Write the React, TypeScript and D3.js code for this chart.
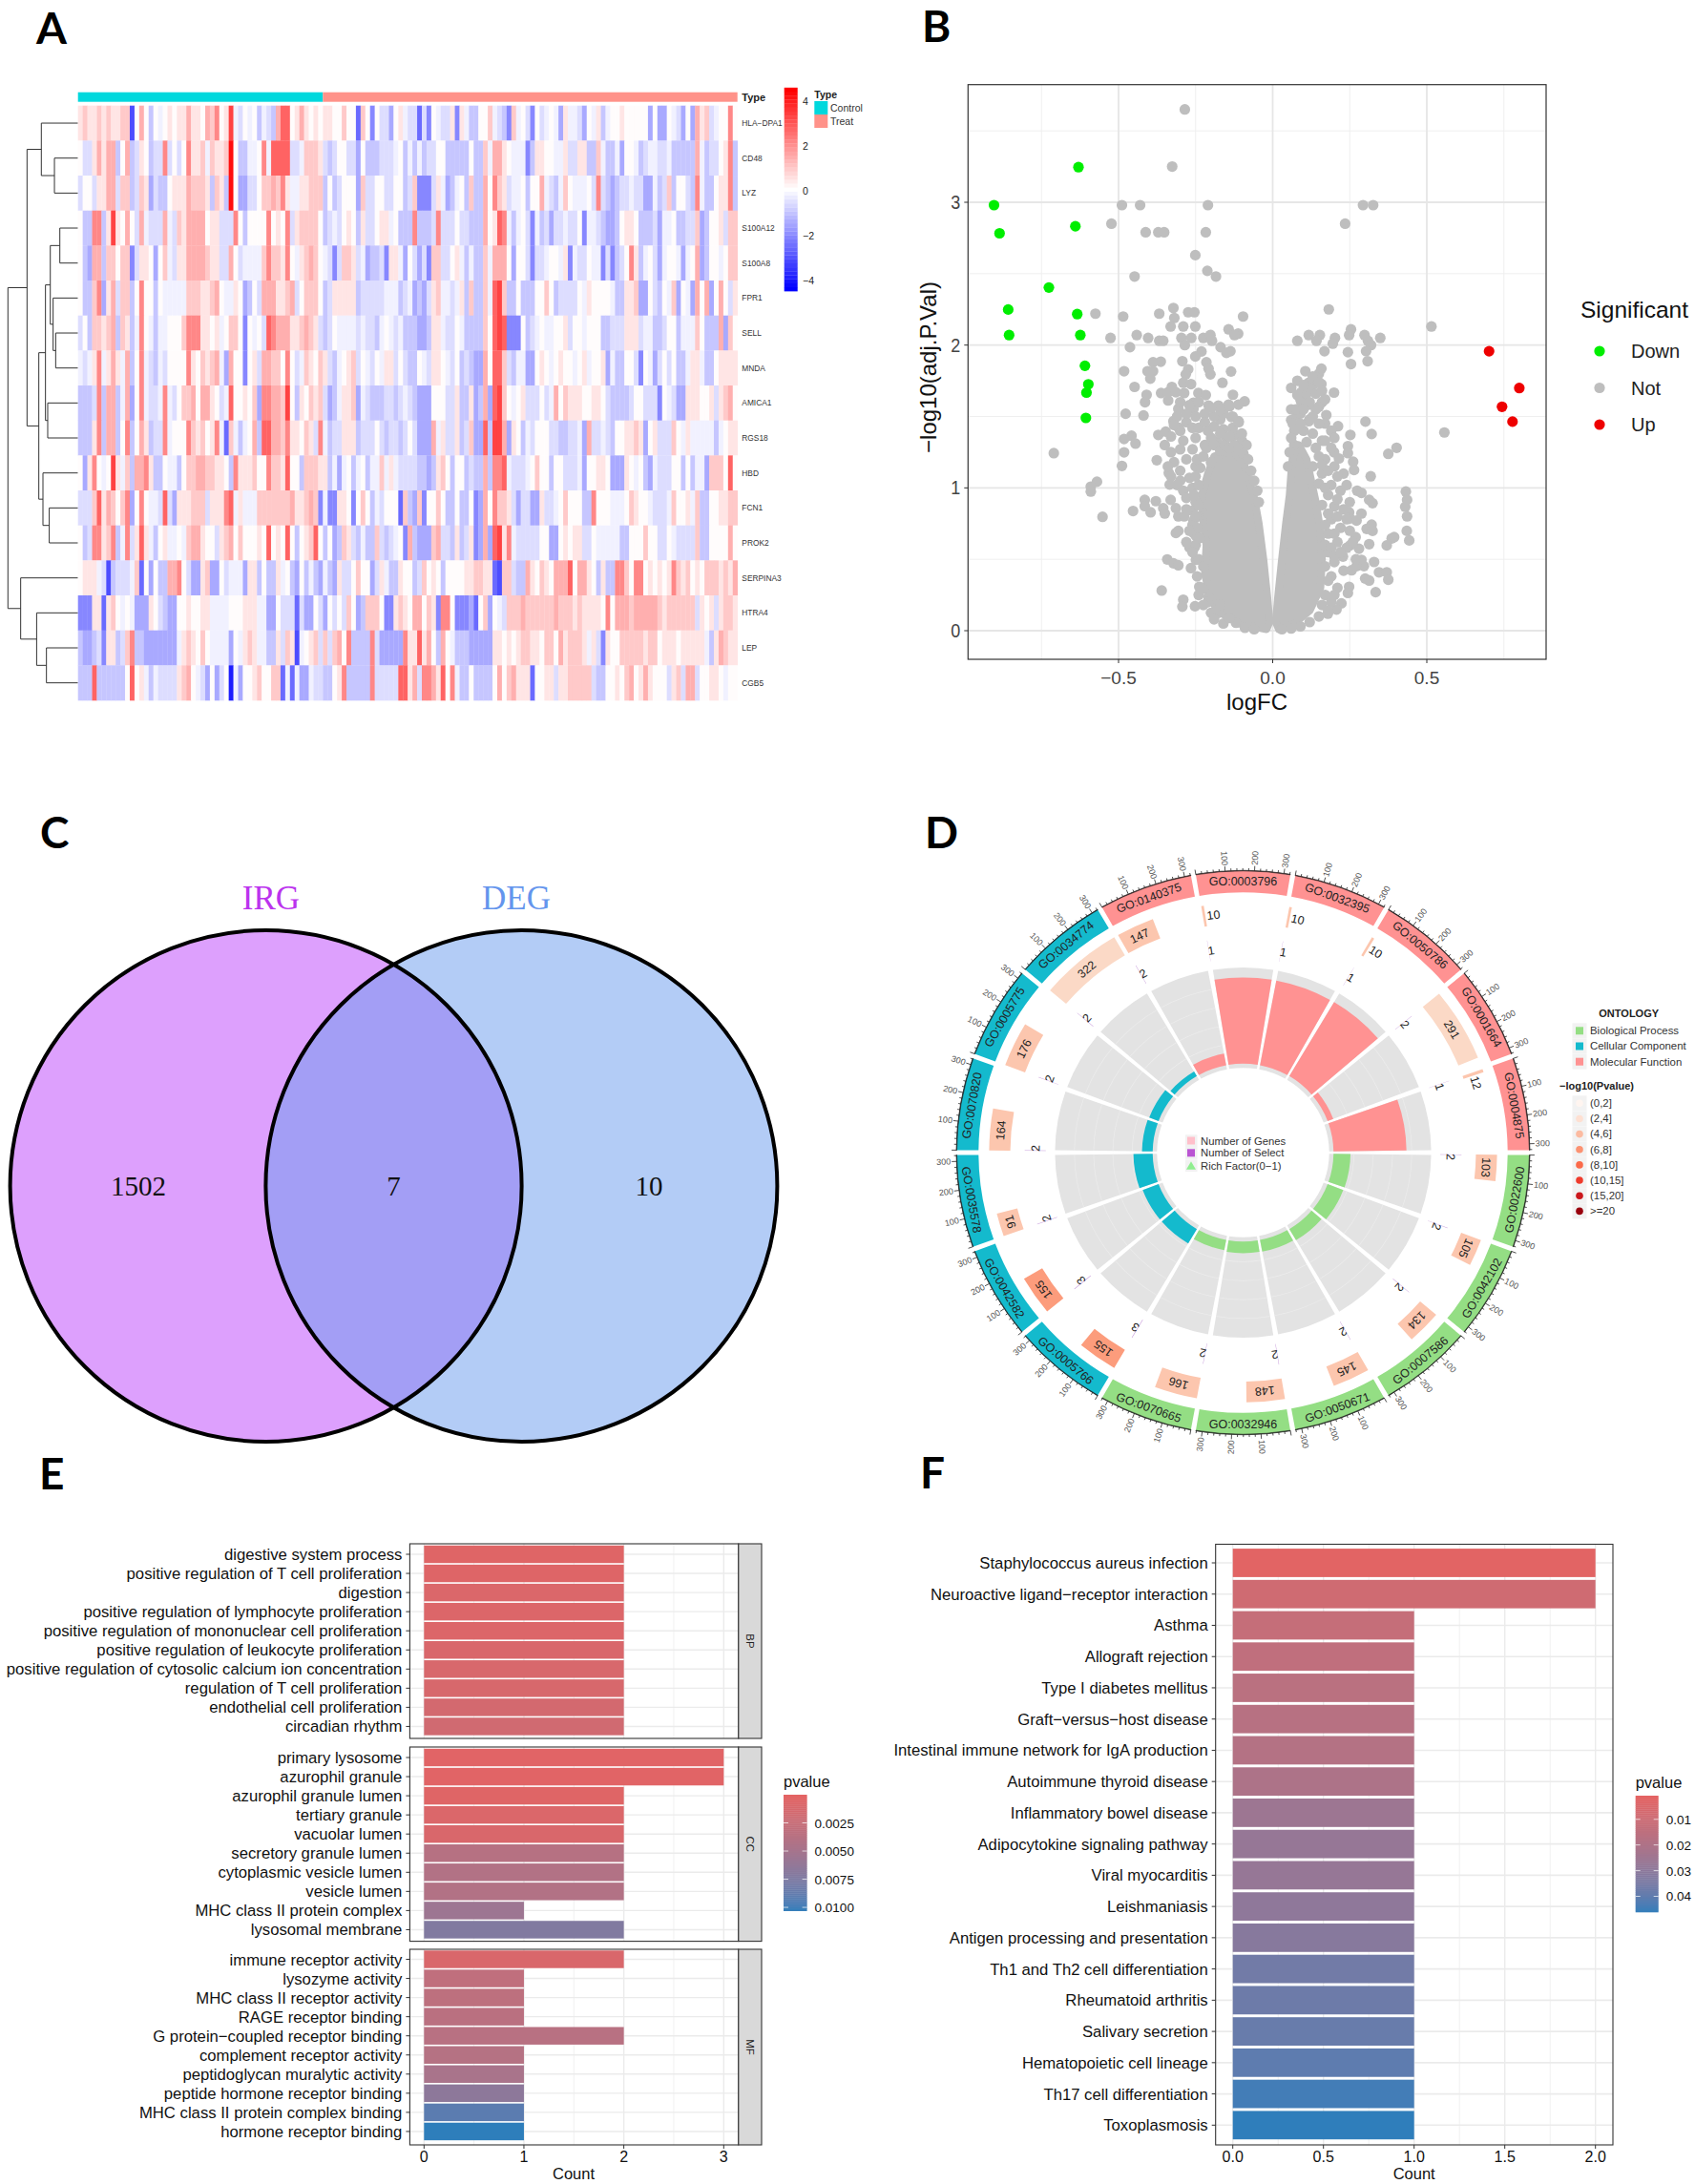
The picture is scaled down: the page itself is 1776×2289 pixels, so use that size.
import * as d3 from "d3";

const SANS = "'Liberation Sans', Arial, sans-serif";
const SERIF = "'Liberation Serif', 'Times New Roman', serif";

// ---------- panel A: heatmap ----------
const geneNames = ["HLA−DPA1", "CD48", "LYZ", "S100A12", "S100A8", "FPR1", "SELL", "MNDA", "AMICA1", "RGS18", "HBD", "FCN1", "PROK2", "SERPINA3", "HTRA4", "LEP", "CGB5"];
const controlCount = 52;
const treatCount = 88;
// one letter per column, a = -4 ... i = 0 ... p = +4
const levelValues: Record<string, number> = { a: -4, b: -3.1, c: -2.6, d: -2.1, e: -1.5, f: -1, g: -0.6, h: -0.25, i: 0.05, j: 0.45, k: 0.95, l: 1.4, m: 2.1, n: 2.7, o: 3.3, p: 4.3 };
const heatRows = [
  "jkjjkjkjjk kbilifihij ijjljjilkm ijohgihifh gflnnijlji jijjiikiic kidiggeijh ggcgdihggj djhffiikhg fdkhigdigh ihejhhgeih jfhiijiiii ieieeihgei eljkghiimi",
  "iggjljllfi lfgjifggmg igimjjkhkj jkpiffhhim hnnnngghkk kjgfgiigge ifffggghif hfhfggiiff fffiffkhll jihhhdfjji ihhjggjjff khffheiihf ghhgghffff flhfggijmf",
  "giigjjllgk kfgkjegffi jjjlkkkjfk jfpieeggik klkmjhhjjk kkfifgiiie kggiiggiif gkdddgjhef hifkfflimk jghhifiilh gfhkihhhig mgfefgghgg eehfgkfiig fmhffijjmf",
  "iffmmfjoji liglhggglh gkjllllijj gggmifiiii mijimgjkkk kifghgijif jggijjhiff fmfffgmggg iggffflijn mhfhigdhfg egghggidhh gfeefijjif ffgehhiffg gkefiijgkk",
  "ifellfkkik kdgjjieikh gjjllllkjj gglighhhhk mkkjmihjkl kihgdgkkjg heffgdjjhe igegdkkggi jhfhffkhll lieiigdggh iihjdhggih hdgdfgimjf higehiiheh ilefiihikk",
  "iffkmejlgk kfimiifihh hhhkkkjjkl ihhjiefigl lljjklgikk kifgjjjjjf ggggghhhfg hefegjkhhg hjfkffkhno kffifffiik ifggggihji iiihffjjke eigfihkeih elileiligj",
  "gifkkjklfk jfhmihfhhi iikmmmjjij hikkidihig nmllljjklk jgfgihhhhg hggfhihghf ffeefjjhgg ihffffkino ndddifghih hiijgiihii iffgggjjjg hhffgiifhh hkifffleki",
  "hghjmhjljh lfimhgfhgi iiimjikjkl heliidijgl lkkimighkj ikjgfhijkg ihgihjjgig ffihgjjihg ifgfeelinn kgfhheeiji hijiihijhi ijehffiigd ihegigiffh jjhffijjjj",
  "fffgmfllfh leimhgghmh gikklillji ghniijikem mllkoifjik jkgefhjjke hgfffggfgh gfeeeiiigg jffjefleno kihijgggig hlikjjjiij jigffffgii gggdihgeej jjiijgjkli",
  "fffjmfllfi mfiljfggmh iiimkjkijm hckhfhilfn nllkmjjikj gmhfggjjjf gggigfggfg igeeelhjgg jfgkeenfoo lejifhgiii ggffgghelg ghgfiijjkj eijgggkihj hhhhhfhijj",
  "iejmihiojh kfllmjffih hfikkllkkj jifmjjjkii mkkjniifkk kjjfhehifh ifhhkhjhgg ggffefjkif iifgfflfmm nhggghikii fiigggheii jjieeejihi fehgggiifi fhhekkkini",
  "gggknjlkik meimihhgng ejjjkkkgjj jmnhjhhhkk kkkkkljjkl kdhddjjidi kifhgiiick fekdiikiff iffidelimk kjgeggeejg ghikiiiffm iiihhhikji ihggghkiij hkffiijjkk",
  "ifgmmjkmfh mgjnjhfijh hihklljiig jklikiiiji nijinifijk nifiefkjgf hffkgfghid lfeeeklggf jfgjdeleno jmhgggggii eeijijjggi hhhhhffiii kiiggihggg gkffiiiili",
  "ijjjhgbfgg ghkcieiffl lmigeejkee ighhhejjfi ffjhifeifh fehfejggik iiegjhffji ifgkijifii iijjkkjjcb kkgffljikj illlnillji fjffmmkimm ijijijmkjk ijikkkjkjl",
  "dddjjcjkih iheeejigfe eiijiijjhh hhiiijjjhh eeigggcgee igeigigkie fkkkiddjkj illikjdmmi dddecikeih gkkklkkkkk klkkkjkjjj jimilllkll lllkjkkkkk kgjijgjkkj",
  "feefgdjjfg kmffeeeeee ehjkjikihh hheihjkjhh ffjgkjbhij kgkgklimff ffmgeeeeem jjnjliflih fffeeeeejj ijijkkjjik kiljkkkjhj gdjiikkkkk jkkijjjijj jjjhfjlkjj",
  "fffnffffff inijhfhggg gjklihgeie giaheiijki ikkchcheeh ggffijmfff ffmgggggnn jlgmmljnim hffiffffil ikljjjciij jgjjkkkkkg ffiijiklij ljiiigjkgl lgiijjihii",
].map((r) => r.replace(/\s/g, "").split("").map((c) => levelValues[c]));

type DendroNode = { h: number; name?: string; children?: DendroNode[] };
const leaf = (i: number): DendroNode => ({ h: 0, name: geneNames[i] });
const dendroTree: DendroNode = {
  h: 1,
  children: [
    {
      h: 0.727,
      children: [
        { h: 0.523, children: [leaf(0), { h: 0.336, children: [leaf(1), leaf(2)] }] },
        {
          h: 0.559,
          children: [
            {
              h: 0.464,
              children: [
                {
                  h: 0.395,
                  children: [
                    { h: 0.259, children: [leaf(3), leaf(4)] },
                    { h: 0.355, children: [leaf(5), { h: 0.318, children: [leaf(6), leaf(7)] }] },
                  ],
                },
                { h: 0.432, children: [leaf(8), leaf(9)] },
              ],
            },
            { h: 0.5, children: [leaf(10), { h: 0.41, children: [leaf(11), leaf(12)] }] },
          ],
        },
      ],
    },
    { h: 0.818, children: [leaf(13), { h: 0.59, children: [leaf(14), { h: 0.45, children: [leaf(15), leaf(16)] }] }] },
  ],
};

function Heatmap() {
  const columns = d3.range(controlCount + treatCount);
  const x = d3.scaleBand<number>().domain(columns).range([81.7, 772.7]);
  const y = d3.scaleBand<string>().domain(geneNames).range([110.7, 734]);
  const color = d3.scaleLinear<string>().domain([-4.45, 0, 4.45]).range(["#0000ff", "#ffffff", "#ff0000"]);
  const h = d3.scaleLinear().domain([0, 1]).range([81.7, 8.3]);
  const legendY = d3.scaleLinear().domain([-4, 4]).range([294, 106]);
  const legendSteps = d3.range(-4.45, 4.45, 0.178);

  // dendrogram: a node's y is the middle of its two children
  const root = d3.hierarchy(dendroTree);
  const nodeY = (n: d3.HierarchyNode<DendroNode>): number =>
    n.children ? (nodeY(n.children[0]) + nodeY(n.children[1])) / 2 : y(n.data.name!)! + y.bandwidth() / 2;
  const dendroPaths = root.descendants().filter((n) => n.children).map((n) => {
    const [a, b] = n.children!;
    return `M${h(a.data.h)},${nodeY(a)}H${h(n.data.h)}V${nodeY(b)}H${h(b.data.h)}`;
  });

  return (
    <g fontFamily={SANS}>
      <defs>
        <filter id="soft" x="0" y="0" width="1" height="1">
          <feGaussianBlur stdDeviation="0.7 0.4" />
        </filter>
      </defs>
      {dendroPaths.map((d, i) => <path key={i} d={d} fill="none" stroke="#333" strokeWidth={1} />)}
      <rect x={x(0)} y={96.7} width={x(controlCount)! - x(0)!} height={10} fill="#00d8dd" />
      <rect x={x(controlCount)} y={96.7} width={772.7 - x(controlCount)!} height={10} fill="#ff9289" />
      <g filter="url(#soft)">
        {heatRows.map((row, r) =>
          row.map((v, c) => (
            <rect key={`${r}-${c}`} x={x(c)} y={y(geneNames[r])} width={x.bandwidth() + 0.3} height={y.bandwidth() + 0.3} fill={color(v)} />
          ))
        )}
      </g>
      <text x={777.3} y={106} fontSize={11} fontWeight="bold" fill="#222">Type</text>
      {geneNames.map((g) => (
        <text key={g} x={777.3} y={y(g)! + y.bandwidth() / 2 + 3} fontSize={8.4} fill="#333">{g}</text>
      ))}
      {legendSteps.map((v) => (
        <rect key={v} x={821.7} y={legendY(v) - 3.6} width={14} height={4.4} fill={color(v)} />
      ))}
      {[4, 2, 0, -2, -4].map((t) => (
        <text key={t} x={841} y={legendY(t) + 4} fontSize={10.5} fill="#222">{d3.format("d")(t)}</text>
      ))}
      <text x={853.3} y={103} fontSize={10.5} fontWeight="bold" fill="#222">Type</text>
      <rect x={853.3} y={106} width={14} height={14} fill="#00d8dd" />
      <rect x={853.3} y={120} width={14} height={14} fill="#ff9289" />
      <text x={870} y={117} fontSize={10.5} fill="#333">Control</text>
      <text x={870} y={131} fontSize={10.5} fill="#333">Treat</text>
    </g>
  );
}

// ---------- panel B: volcano ----------
const downPoints = [[-0.904, 2.98], [-0.886, 2.783], [-0.63, 3.246], [-0.64, 2.832], [-0.726, 2.403], [-0.858, 2.249], [-0.634, 2.217], [-0.855, 2.07], [-0.624, 2.07], [-0.609, 1.855], [-0.598, 1.725], [-0.604, 1.667], [-0.606, 1.49]];
const upPoints = [[0.702, 1.957], [0.8, 1.699], [0.744, 1.568], [0.778, 1.464]];
const notPoints = [
  [-0.285, 3.65], [-0.326, 3.25], [-0.489, 2.98], [-0.43, 2.98], [-0.21, 2.98], [0.293, 2.98], [0.326, 2.98], [-0.523, 2.85], [0.235, 2.85], [-0.412, 2.79], [-0.371, 2.79], [-0.352, 2.79], [-0.217, 2.79], [-0.251, 2.63], [-0.212, 2.52], [-0.184, 2.48], [-0.448, 2.48],
  [-0.322, 2.26], [-0.274, 2.23], [-0.254, 2.23], [-0.575, 2.22], [-0.485, 2.2], [-0.368, 2.22], [-0.096, 2.2], [0.182, 2.25], [-0.319, 2.19], [-0.331, 2.13], [-0.29, 2.13], [-0.251, 2.13], [0.515, 2.13], [-0.143, 2.11], [-0.112, 2.08], [-0.124, 2.07], [0.254, 2.11], [0.298, 2.07], [0.248, 2.07],
  [-0.526, 2.05], [-0.441, 2.07], [-0.404, 2.05], [-0.296, 2.05], [-0.264, 2.05], [-0.225, 2.05], [-0.202, 2.07], [-0.197, 2.03], [0.117, 2.07], [0.153, 2.07], [0.142, 2.03], [0.08, 2.03], [0.202, 2.05], [0.195, 2.01], [0.349, 2.05], [0.309, 2.03], [0.319, 2.0], [-0.368, 2.03], [-0.355, 2.03],
  [-0.463, 1.985], [-0.285, 2.0], [-0.169, 1.985], [-0.137, 1.957], [-0.15, 1.945], [-0.231, 1.955], [-0.251, 1.92], [0.168, 1.957], [0.244, 1.95], [0.303, 1.957], [0.254, 1.867], [0.308, 1.887], [-0.293, 1.887], [-0.388, 1.88], [-0.363, 1.884], [-0.215, 1.88], [-0.208, 1.835], [-0.274, 1.83], [-0.282, 1.795],
  [-0.482, 1.817], [-0.406, 1.817], [-0.388, 1.817], [-0.397, 1.765], [-0.135, 1.815], [0.106, 1.817], [0.158, 1.835], [0.15, 1.8], [0.142, 1.77], [-0.202, 1.795], [-0.163, 1.736], [-0.448, 1.707], [-0.327, 1.707], [-0.29, 1.736], [-0.265, 1.727], [-0.362, 1.664], [-0.339, 1.67], [-0.314, 1.67], [-0.287, 1.664], [-0.241, 1.664], [-0.217, 1.65],
  [0.199, 1.667], [0.117, 1.736], [0.134, 1.727], [0.158, 1.727], [0.093, 1.67], [-0.409, 1.652], [-0.414, 1.6], [-0.129, 1.652], [-0.091, 1.606], [-0.111, 1.583], [-0.143, 1.583], [-0.176, 1.577], [-0.208, 1.577], [-0.257, 1.597], [-0.339, 1.612], [-0.477, 1.519], [-0.419, 1.507], [-0.306, 1.554], [-0.257, 1.554], [-0.134, 1.496], [-0.111, 1.467],
  [0.093, 1.6], [0.117, 1.583], [0.15, 1.568], [0.174, 1.51], [0.301, 1.464], [0.321, 1.377], [0.557, 1.388], [0.078, 1.51], [0.06, 1.475], [0.117, 1.467], [0.212, 1.432], [0.252, 1.371], [-0.458, 1.365], [-0.482, 1.342], [-0.445, 1.31], [-0.371, 1.371], [-0.347, 1.394], [-0.306, 1.423], [-0.322, 1.467],
  [0.402, 1.281], [0.375, 1.238], [-0.71, 1.243], [-0.482, 1.249], [-0.489, 1.154], [-0.376, 1.194], [-0.337, 1.104], [-0.334, 1.023], [0.244, 1.293], [0.244, 1.243], [0.199, 1.249], [0.215, 1.206], [0.261, 1.183], [0.264, 1.125], [0.318, 1.081], [-0.57, 1.043], [-0.59, 1.009], [-0.59, 0.974],
  [-0.415, 0.916], [-0.379, 0.907], [-0.331, 0.916], [-0.415, 0.872], [-0.453, 0.838], [-0.396, 0.829], [-0.355, 0.858], [-0.35, 0.82], [-0.314, 0.858], [-0.306, 0.8], [-0.287, 0.8], [-0.552, 0.797], [0.432, 0.974], [0.436, 0.916], [0.43, 0.867], [0.436, 0.8], [0.435, 0.699], [0.443, 0.632],
  [0.274, 0.98], [0.288, 0.965], [0.313, 0.916], [0.324, 0.893], [0.248, 0.829], [0.288, 0.82], [0.251, 0.786], [0.272, 0.771], [0.321, 0.742], [0.305, 0.713], [0.324, 0.699], [0.269, 0.655], [0.386, 0.646], [0.394, 0.655], [0.37, 0.597], [0.313, 0.606], [0.251, 0.597], [0.28, 0.574], [0.228, 0.519], [0.288, 0.496], [0.329, 0.481], [0.296, 0.452], [0.256, 0.423], [0.272, 0.452], [0.345, 0.409], [0.37, 0.409], [0.375, 0.357], [0.3, 0.365], [0.313, 0.351], [0.248, 0.307], [0.244, 0.264], [0.334, 0.27], [0.223, 0.191], [0.207, 0.148], [0.179, 0.119],
  [-0.342, 0.499], [-0.322, 0.472], [-0.306, 0.458], [-0.265, 0.438], [-0.249, 0.496], [-0.254, 0.583], [-0.27, 0.583], [-0.314, 0.684], [-0.306, 0.699], [-0.257, 0.684], [-0.249, 0.664], [-0.257, 0.771], [-0.36, 0.281], [-0.29, 0.217], [-0.293, 0.168], [-0.252, 0.171], [-0.2, 0.125], [-0.176, 0.125], [-0.119, 0.055], [-0.208, 0.235], [-0.225, 0.293], [-0.238, 0.307],
  [-0.3, 1.6], [-0.27, 1.58], [-0.31, 1.5], [-0.28, 1.46], [-0.25, 1.5], [-0.22, 1.52], [-0.26, 1.42], [-0.3, 1.4], [-0.33, 1.36], [-0.29, 1.33], [-0.25, 1.35], [-0.21, 1.4], [-0.19, 1.43], [-0.16, 1.41], [-0.13, 1.42], [-0.12, 1.37], [-0.1, 1.33], [-0.085, 1.3], [-0.15, 1.35], [-0.18, 1.32], [-0.22, 1.3], [-0.26, 1.27], [-0.3, 1.27], [-0.33, 1.25], [-0.32, 1.18], [-0.28, 1.2], [-0.25, 1.15], [-0.3, 1.12], [-0.27, 1.07], [-0.31, 1.02], [-0.29, 0.98], [-0.26, 1.0], [-0.28, 0.93], [-0.25, 0.9], [-0.26, 0.84], [-0.24, 0.8], [-0.26, 0.74], [-0.13, 1.5], [-0.11, 1.46], [-0.17, 1.48], [-0.2, 1.35],
  [0.06, 1.7], [0.08, 1.75], [0.09, 1.62], [0.11, 1.66], [0.12, 1.7], [0.14, 1.66], [0.16, 1.6], [0.06, 1.55], [0.09, 1.52], [0.12, 1.48], [0.14, 1.55], [0.17, 1.45], [0.19, 1.4], [0.2, 1.35], [0.07, 1.4], [0.1, 1.4], [0.13, 1.38], [0.16, 1.33], [0.19, 1.28], [0.07, 1.3], [0.17, 1.2], [0.2, 1.15], [0.23, 1.1], [0.16, 1.1], [0.19, 1.02], [0.22, 0.98], [0.25, 0.9], [0.18, 0.95], [0.2, 0.87], [0.23, 0.85], [0.19, 0.78], [0.22, 0.72], [0.25, 0.7], [0.18, 0.68], [0.21, 0.62], [0.24, 0.58], [0.18, 0.55], [0.2, 0.48], [0.23, 0.42], [0.19, 0.38], [0.21, 0.3], [0.17, 0.25], [0.19, 0.2],
  // edge of the dense mass, left lobe
  [-0.21, 0.2], [-0.23, 0.3], [-0.245, 0.38], [-0.24, 0.5], [-0.225, 0.45], [-0.25, 0.6], [-0.235, 0.65], [-0.245, 0.72], [-0.25, 0.8], [-0.24, 0.88], [-0.255, 0.95], [-0.24, 1.02], [-0.25, 1.08], [-0.235, 1.14], [-0.245, 1.2], [-0.225, 1.22], [-0.215, 1.28], [-0.2, 1.18], [-0.19, 1.3], [-0.17, 1.26], [-0.155, 1.3], [-0.14, 1.28], [-0.125, 1.3], [-0.11, 1.27], [-0.095, 1.24], [-0.08, 1.2], [-0.07, 1.12], [-0.06, 1.05], [-0.05, 0.98], [-0.045, 0.9], [-0.1, 1.38], [-0.14, 1.36], [-0.17, 1.38], [-0.24, 1.42], [-0.22, 1.46], [-0.19, 1.5], [-0.16, 1.52], [-0.14, 1.57], [-0.17, 1.55], [-0.2, 1.56], [-0.24, 1.6], [-0.28, 1.52], [-0.32, 1.44], [-0.35, 1.3], [-0.34, 1.15], [-0.3, 1.05], [-0.33, 1.08], [-0.28, 0.85], [-0.27, 0.7], [-0.28, 0.62], [-0.26, 0.55], [-0.24, 0.25], [-0.225, 0.18], [-0.19, 0.08], [-0.16, 0.05], [-0.14, 0.09], [-0.17, 0.18], [-0.09, 0.02], [-0.06, 0.01],
  // edge of the dense mass, right lobe
  [0.05, 1.15], [0.055, 1.25], [0.06, 1.35], [0.065, 1.45], [0.075, 1.55], [0.08, 1.65], [0.1, 1.72], [0.13, 1.78], [0.15, 1.74], [0.16, 1.68], [0.17, 1.62], [0.12, 1.6], [0.1, 1.55], [0.13, 1.5], [0.15, 1.45], [0.09, 1.45], [0.11, 1.32], [0.14, 1.28], [0.17, 1.33], [0.15, 1.22], [0.13, 1.15], [0.16, 1.16], [0.18, 1.12], [0.15, 1.03], [0.17, 1.0], [0.21, 1.08], [0.24, 1.02], [0.16, 0.88], [0.18, 0.82], [0.21, 0.8], [0.17, 0.74], [0.2, 0.68], [0.17, 0.6], [0.19, 0.58], [0.17, 0.45], [0.18, 0.35], [0.2, 0.25], [0.16, 0.18], [0.18, 0.14], [0.15, 0.1], [0.12, 0.06], [0.09, 0.03], [0.06, 0.015], [0.03, 0.01], [0.2, 0.52], [0.22, 0.55], [0.21, 0.92], [0.24, 0.78], [0.27, 0.5], [0.26, 0.62],
];
// the overplotted mass of points near zero, outlined from the picture
const massLeft = [[-0.02, 0.01], [-0.11, 0.05], [-0.18, 0.14], [-0.205, 0.25], [-0.22, 0.4], [-0.215, 0.6], [-0.225, 0.75], [-0.23, 0.95], [-0.21, 1.1], [-0.19, 1.22], [-0.13, 1.26], [-0.095, 1.18], [-0.08, 1.08], [-0.06, 0.93], [-0.045, 0.75], [-0.03, 0.5], [-0.018, 0.25], [-0.01, 0.06]];
const massRight = [[0.01, 0.06], [0.018, 0.25], [0.03, 0.5], [0.043, 0.75], [0.055, 0.95], [0.06, 1.1], [0.065, 1.22], [0.085, 1.3], [0.11, 1.2], [0.125, 1.05], [0.14, 0.9], [0.155, 0.7], [0.16, 0.5], [0.155, 0.3], [0.12, 0.14], [0.07, 0.05], [0.02, 0.01]];

function Volcano() {
  const x = d3.scaleLinear().domain([-0.5, 0.5]).range([1172, 1495]);
  const y = d3.scaleLinear().domain([0, 3]).range([661, 212]);
  const left = 1014.3, right = 1620, top = 88.7, bottom = 691;
  const outline = d3.line().x((d) => x(d[0])).y((d) => y(d[1])).curve(d3.curveLinearClosed);
  const fmt = d3.format(".1f");
  const dotR = 5.6;
  return (
    <g fontFamily={SANS}>
      {[0.5, 1.5, 2.5, 3.5].map((t) => <line key={t} x1={left} x2={right} y1={y(t)} y2={y(t)} stroke="#efefef" strokeWidth={1} />)}
      {[-0.75, -0.25, 0.25, 0.75].map((t) => <line key={t} y1={top} y2={bottom} x1={x(t)} x2={x(t)} stroke="#efefef" strokeWidth={1} />)}
      {[0, 1, 2, 3].map((t) => <line key={t} x1={left} x2={right} y1={y(t)} y2={y(t)} stroke="#e6e6e6" strokeWidth={1.8} />)}
      {[-0.5, 0, 0.5].map((t) => <line key={t} y1={top} y2={bottom} x1={x(t)} x2={x(t)} stroke="#e6e6e6" strokeWidth={1.8} />)}
      <path d={outline(massLeft as [number, number][])!} fill="#bebebe" stroke="#bebebe" strokeWidth={8} strokeLinejoin="round" />
      <path d={outline(massRight as [number, number][])!} fill="#bebebe" stroke="#bebebe" strokeWidth={8} strokeLinejoin="round" />
      {notPoints.map((p, i) => <circle key={i} cx={x(p[0])} cy={y(p[1])} r={dotR} fill="#bebebe" />)}
      {downPoints.map((p, i) => <circle key={i} cx={x(p[0])} cy={y(p[1])} r={dotR} fill="#00ee00" />)}
      {upPoints.map((p, i) => <circle key={i} cx={x(p[0])} cy={y(p[1])} r={dotR} fill="#ee0000" />)}
      <rect x={left} y={top} width={right - left} height={bottom - top} fill="none" stroke="#333" strokeWidth={1.2} />
      {[0, 1, 2, 3].map((t) => (
        <g key={t}>
          <line x1={left - 4} x2={left} y1={y(t)} y2={y(t)} stroke="#333" />
          <text x={left - 8} y={y(t) + 7} textAnchor="end" fontSize={20} fill="#444" transform={`translate(${(left - 8) * 0.1},0) scale(0.9,1)`}>{t}</text>
        </g>
      ))}
      {[-0.5, 0, 0.5].map((t) => (
        <g key={t}>
          <line y1={bottom} y2={bottom + 4} x1={x(t)} x2={x(t)} stroke="#333" />
          <text x={x(t)} y={bottom + 26} textAnchor="middle" fontSize={19} fill="#444">{fmt(t)}</text>
        </g>
      ))}
      <text x={1317} y={744} textAnchor="middle" fontSize={24} fill="#111">logFC</text>
      <text transform="translate(981,385) rotate(-90)" textAnchor="middle" fontSize={24} fill="#111">−log10(adj.P.Val)</text>
      <text x={1656} y={333} fontSize={24.5} fill="#111">Significant</text>
      {[["Down", "#00ee00", 368], ["Not", "#bebebe", 406.5], ["Up", "#ee0000", 445]].map(([name, col, cy]) => (
        <g key={name as string}>
          <circle cx={1676} cy={cy as number} r={dotR} fill={col as string} />
          <text x={1709} y={(cy as number) + 7} fontSize={20} fill="#222">{name}</text>
        </g>
      ))}
    </g>
  );
}

// ---------- panel C: venn ----------
const vennSets = ["IRG", "DEG"];
const vennCounts = [1502, 7, 10];

function Venn() {
  const r = 268;
  const x = d3.scalePoint<string>().domain(vennSets).range([278.6, 546.4]);
  const a = x("IRG")!, b = x("DEG")!;
  const cy = 1243;
  return (
    <g>
      <defs>
        <clipPath id="venn-clip"><circle cx={a} cy={cy} r={r} /></clipPath>
      </defs>
      <circle cx={a} cy={cy} r={r} fill="#dda0fd" />
      <circle cx={b} cy={cy} r={r} fill="#b3ccf6" />
      <circle cx={b} cy={cy} r={r} fill="#a39ef5" clipPath="url(#venn-clip)" />
      <circle cx={a} cy={cy} r={r} fill="none" stroke="#000" strokeWidth={4} />
      <circle cx={b} cy={cy} r={r} fill="none" stroke="#000" strokeWidth={4} />
      <g fontFamily={SERIF}>
        <text x={284} y={953} textAnchor="middle" fontSize={35} fill="#bb33ee">{vennSets[0]}</text>
        <text x={541} y={953} textAnchor="middle" fontSize={35} fill="#6495ed">{vennSets[1]}</text>
        {vennCounts.map((c, i) => (
          <text key={c} x={[145, 412.5, 680][i]} y={1253} textAnchor="middle" fontSize={29} fill="#111">{c}</text>
        ))}
      </g>
    </g>
  );
}

// ---------- panel D: GO circle ----------
const goIds = ["GO:0003796", "GO:0032395", "GO:0050786", "GO:0001664", "GO:0004875", "GO:0022600", "GO:0042102", "GO:0007586", "GO:0050671", "GO:0032946", "GO:0070665", "GO:0005766", "GO:0042582", "GO:0035578", "GO:0070820", "GO:0005775", "GO:0034774", "GO:0140375"];
const goOntology = ["MF", "MF", "MF", "MF", "MF", "BP", "BP", "BP", "BP", "BP", "BP", "CC", "CC", "CC", "CC", "CC", "CC", "MF"];
const goGenes = [10, 10, 10, 291, 12, 103, 105, 134, 145, 148, 166, 155, 155, 91, 164, 176, 322, 147];
const goSelect = [1, 1, 1, 2, 1, 2, 2, 2, 2, 2, 2, 3, 3, 2, 2, 2, 2, 2];
const goPColor = ["#fcc6ae", "#fcc6ae", "#fcc6ae", "#fbd9c6", "#fcc6ae", "#fcc6ae", "#fcc6ae", "#fcc6ae", "#fcc6ae", "#fcc6ae", "#fcc6ae", "#fc9c7c", "#fc9c7c", "#fcc6ae", "#fcc6ae", "#fcc6ae", "#fbd9c6", "#fcc6ae"];
const ontologyColors: Record<string, string> = { BP: "#94de84", CC: "#14bacd", MF: "#ff9292" };
const ontologyLegend = [["Biological Process", "BP"], ["Cellular Component", "CC"], ["Molecular Function", "MF"]];
const pvalueBins = ["(0,2]", "(2,4]", "(4,6]", "(6,8]", "(8,10]", "(10,15]", "(15,20]", ">=20"];
const pvalueBinColors = ["#fff5f0", "#fee0d2", "#fcbba1", "#fc9272", "#fb6a4a", "#ef3b2c", "#cb181d", "#99000d"];
const axisMajor = [100, 200, 300];
const axisMinor = d3.range(0, 321, 20);

function GoCircle() {
  const rad = Math.PI / 180;
  const arc = d3.arc();
  const richScale = d3.scaleLinear().domain([0, 0.1]).range([94, 185]);
  const polar = (deg: number, r: number) => [r * Math.sin(deg * rad), -r * Math.cos(deg * rad)];
  const band = (r0: number, r1: number, a0: number, a1: number) =>
    arc({ innerRadius: r0, outerRadius: r1, startAngle: a0 * rad, endAngle: a1 * rad } as any)!;
  return (
    <g fontFamily={SANS}>
      <g transform="translate(1302.5,1208) scale(1.008,0.992)">
        {goIds.map((id, i) => {
          const a0 = -9.5 + 20 * i;
          const a = d3.scaleLinear().domain([0, 322]).range([a0, a0 + 19]);
          const mid = a0 + 9.5;
          const norm = ((mid % 360) + 360) % 360;
          const flip = norm > 90 && norm < 270;
          const geneEnd = a(goGenes[i]);
          const geneMid = (a0 + geneEnd) / 2 + (goGenes[i] < 20 ? 2.2 : 0);
          const selectMid = a(goSelect[i]) + 0.6;
          const col = ontologyColors[goOntology[i]];
          const [tx, ty] = polar(mid, 286.5);
          const [gx, gy] = polar(geneMid, 253);
          const [sx, sy] = polar(selectMid, 216);
          return (
            <g key={id}>
              <path d={band(275, 298, a0, a0 + 19)} fill={col} />
              <text transform={`translate(${tx},${ty}) rotate(${flip ? mid - 180 : mid})`} textAnchor="middle" dy={4.4} fontSize={12.4} fill="#222">{id}</text>
              <path d={band(297.6, 298.2, a0, a0 + 19)} fill="#222" stroke="#222" strokeWidth={0.6} />
              {axisMinor.map((t) => {
                const [x1, y1] = polar(a(t), 298);
                const [x2, y2] = polar(a(t), t % 100 === 0 ? 303 : 300.5);
                return <line key={t} x1={x1} y1={y1} x2={x2} y2={y2} stroke="#222" strokeWidth={0.8} />;
              })}
              {axisMajor.map((t) => {
                const deg = a(t);
                const nd = ((deg % 360) + 360) % 360;
                const [x1, y1] = polar(deg, 311.5);
                return (
                  <text key={t} transform={`translate(${x1},${y1}) rotate(${nd < 180 ? nd - 90 : nd - 270})`} textAnchor="middle" dy={3} fontSize={9} fill="#555">{t}</text>
                );
              })}
              <path d={band(242, 264, a0, geneEnd)} fill={goPColor[i]} />
              <text transform={`translate(${gx},${gy}) rotate(${geneMid})`} textAnchor="middle" dy={4.4} fontSize={12.4} fill="#222">{goGenes[i]}</text>
              <path d={band(205, 227, a0, a(goSelect[i]))} fill="#c9a0dc" />
              <text transform={`translate(${sx},${sy}) rotate(${selectMid})`} textAnchor="middle" dy={4.4} fontSize={12.4} fill="#222">{goSelect[i]}</text>
              <path d={band(89.5, 195.5, a0 + 0.25, a0 + 18.75)} fill="#e3e3e3" />
              {[115, 135, 155, 175].map((r) => (
                <path key={r} d={band(r, r + 0.7, a0 + 0.25, a0 + 18.75)} fill="#ececec" />
              ))}
              <path d={band(richScale(0), richScale(goSelect[i] / goGenes[i]), a0 + 0.25, a0 + 18.75)} fill={col} />
            </g>
          );
        })}
      </g>
      {[["Number of Genes", "#ffc0cb", 1195.7], ["Number of Select", "#ba55d3", 1208.5], ["Rich Factor(0−1)", "#90ee90", 1221.7]].map(([label, col, y], i) => (
        <g key={label as string}>
          <rect x={1242} y={(y as number) - 6.4} width={12.5} height={12.8} fill="#f2f2f2" />
          {i < 2 ? (
            <rect x={1244} y={(y as number) - 4.2} width={8} height={8} fill={col as string} />
          ) : (
            <path d={`M1243,${(y as number) + 4}h10l-5,-8.5z`} fill={col as string} />
          )}
          <text x={1258} y={(y as number) + 3.8} fontSize={11.3} fill="#333">{label}</text>
        </g>
      ))}
      <text x={1706.7} y={1065.5} textAnchor="middle" fontSize={11} fontWeight="bold" fill="#222">ONTOLOGY</text>
      {ontologyLegend.map(([label, key], i) => {
        const y = 1080.3 + i * 16.2;
        return (
          <g key={key}>
            <rect x={1647.5} y={y - 8} width={15} height={16} fill="#f2f2f2" />
            <rect x={1651} y={y - 4} width={8} height={8} fill={ontologyColors[key]} />
            <text x={1666} y={y + 3.8} fontSize={11.4} fill="#333">{label}</text>
          </g>
        );
      })}
      <text x={1634} y={1141.5} fontSize={11} fontWeight="bold" fill="#222">−log10(Pvalue)</text>
      {pvalueBins.map((label, i) => {
        const y = 1156.3 + i * 16.15;
        return (
          <g key={label}>
            <rect x={1647.5} y={y - 8} width={15} height={16} fill="#f2f2f2" />
            <circle cx={1655} cy={y} r={3.8} fill={pvalueBinColors[i]} />
            <text x={1666} y={y + 3.8} fontSize={11.4} fill="#333">{label}</text>
          </g>
        );
      })}
    </g>
  );
}

// ---------- panel E: GO bars ----------
const bpTerms = ["digestive system process", "positive regulation of T cell proliferation", "digestion", "positive regulation of lymphocyte proliferation", "positive regulation of mononuclear cell proliferation", "positive regulation of leukocyte proliferation", "positive regulation of cytosolic calcium ion concentration", "regulation of T cell proliferation", "endothelial cell proliferation", "circadian rhythm"];
const bpCounts = [2, 2, 2, 2, 2, 2, 2, 2, 2, 2];
const bpPvalues = [0.0004, 0.0005, 0.0008, 0.0007, 0.0007, 0.0009, 0.001, 0.0011, 0.0014, 0.0017];
const ccTerms = ["primary lysosome", "azurophil granule", "azurophil granule lumen", "tertiary granule", "vacuolar lumen", "secretory granule lumen", "cytoplasmic vesicle lumen", "vesicle lumen", "MHC class II protein complex", "lysosomal membrane"];
const ccCounts = [3, 3, 2, 2, 2, 2, 2, 2, 1, 2];
const ccPvalues = [0.0003, 0.0003, 0.0004, 0.0008, 0.0009, 0.0037, 0.004, 0.004, 0.0055, 0.0072];
const mfTerms = ["immune receptor activity", "lysozyme activity", "MHC class II receptor activity", "RAGE receptor binding", "G protein−coupled receptor binding", "complement receptor activity", "peptidoglycan muralytic activity", "peptide hormone receptor binding", "MHC class II protein complex binding", "hormone receptor binding"];
const mfCounts = [2, 1, 1, 1, 2, 1, 1, 1, 1, 1];
const mfPvalues = [0.0009, 0.003, 0.0032, 0.0034, 0.0036, 0.0038, 0.0047, 0.0065, 0.009, 0.0103];
const eCountTicks = [0, 1, 2, 3];
const ePvalueTicks = [0.0025, 0.005, 0.0075, 0.01];

const RED_END = "#e46363";
const BLUE_END = "#2e7ebb";

function ColorBar({ x, top, bottom, width, domain, ticks, fmt }: any) {
  const y = d3.scaleLinear().domain(domain).range([top, bottom]);
  const color = d3.scaleLinear<string>().domain(domain).range([RED_END, BLUE_END]).interpolate(d3.interpolateLab);
  const steps = d3.range(0, 1.0001, 1 / 60).map((f) => domain[0] + f * (domain[1] - domain[0]));
  return (
    <g>
      <text x={x} y={top - 8} fontSize={16.5} fill="#111">pvalue</text>
      {steps.slice(0, -1).map((v) => (
        <rect key={v} x={x} y={y(v)} width={width} height={(bottom - top) / 60 + 0.4} fill={color(v)} />
      ))}
      {ticks.map((t: number) => (
        <g key={t}>
          <line x1={x} x2={x + 5} y1={y(t)} y2={y(t)} stroke="#fff" strokeOpacity={0.7} />
          <line x1={x + width - 5} x2={x + width} y1={y(t)} y2={y(t)} stroke="#fff" strokeOpacity={0.7} />
          <text x={x + width + 8} y={y(t) + 5} fontSize={13.5} fill="#111">{fmt(t)}</text>
        </g>
      ))}
    </g>
  );
}

function GoFacet({ terms, counts, pvalues, strip, top, bottom, firstCenter, x, color }: any) {
  const left = 429.4, right = 773.8, stripRight = 798;
  const step = 20.05;
  const y = d3.scaleBand<string>().domain(terms).range([firstCenter - step / 2, firstCenter - step / 2 + step * terms.length]).paddingInner(0.08).paddingOuter(0.04);
  return (
    <g>
      {[0.5, 1.5, 2.5].map((t) => <line key={t} x1={x(t)} x2={x(t)} y1={top} y2={bottom} stroke="#f1f1f1" />)}
      {eCountTicks.map((t) => <line key={t} x1={x(t)} x2={x(t)} y1={top} y2={bottom} stroke="#ebebeb" strokeWidth={1.4} />)}
      {terms.map((t: string) => <line key={t} x1={left} x2={right} y1={y(t)! + y.bandwidth() / 2} y2={y(t)! + y.bandwidth() / 2} stroke="#ebebeb" strokeWidth={1.4} />)}
      {terms.map((t: string, i: number) => (
        <rect key={t} x={x(0)} y={y(t)} width={x(counts[i]) - x(0)} height={y.bandwidth()} fill={color(pvalues[i])} />
      ))}
      <rect x={left} y={top} width={right - left} height={bottom - top} fill="none" stroke="#333" strokeWidth={1.1} />
      <rect x={right} y={top} width={stripRight - right} height={bottom - top} fill="#d9d9d9" stroke="#333" strokeWidth={1.1} />
      <text transform={`translate(${(right + stripRight) / 2},${(top + bottom) / 2}) rotate(90)`} textAnchor="middle" dy={4} fontSize={11.5} fill="#222">{strip}</text>
      {terms.map((t: string) => (
        <g key={t}>
          <line x1={left - 4} x2={left} y1={y(t)! + y.bandwidth() / 2} y2={y(t)! + y.bandwidth() / 2} stroke="#333" />
          <text x={left - 8} y={y(t)! + y.bandwidth() / 2 + 6} textAnchor="end" fontSize={16.7} fill="#111">{t}</text>
        </g>
      ))}
    </g>
  );
}

function GoBars() {
  const x = d3.scaleLinear().domain([0, 3]).range([444.3, 758.3]);
  const color = d3.scaleLinear<string>().domain([0, 0.0103]).range([RED_END, BLUE_END]).interpolate(d3.interpolateLab);
  return (
    <g fontFamily={SANS}>
      <GoFacet terms={bpTerms} counts={bpCounts} pvalues={bpPvalues} strip="BP" top={1618} bottom={1822} firstCenter={1629} x={x} color={color} />
      <GoFacet terms={ccTerms} counts={ccCounts} pvalues={ccPvalues} strip="CC" top={1831} bottom={2034.6} firstCenter={1842} x={x} color={color} />
      <GoFacet terms={mfTerms} counts={mfCounts} pvalues={mfPvalues} strip="MF" top={2043} bottom={2248} firstCenter={2053.5} x={x} color={color} />
      {eCountTicks.map((t) => (
        <g key={t}>
          <line x1={x(t)} x2={x(t)} y1={2248} y2={2252} stroke="#333" />
          <text x={x(t)} y={2265.5} textAnchor="middle" fontSize={16} fill="#111">{t}</text>
        </g>
      ))}
      <text x={601} y={2284} textAnchor="middle" fontSize={16.5} fill="#111">Count</text>
      <ColorBar x={821} top={1881} bottom={2002.6} width={24.6} domain={[0, 0.0103]} ticks={ePvalueTicks} fmt={d3.format(".4f")} />
    </g>
  );
}

// ---------- panel F: KEGG bars ----------
const keggTerms = ["Staphylococcus aureus infection", "Neuroactive ligand−receptor interaction", "Asthma", "Allograft rejection", "Type I diabetes mellitus", "Graft−versus−host disease", "Intestinal immune network for IgA production", "Autoimmune thyroid disease", "Inflammatory bowel disease", "Adipocytokine signaling pathway", "Viral myocarditis", "Leishmaniasis", "Antigen processing and presentation", "Th1 and Th2 cell differentiation", "Rheumatoid arthritis", "Salivary secretion", "Hematopoietic cell lineage", "Th17 cell differentiation", "Toxoplasmosis"];
const keggCounts = [2, 2, 1, 1, 1, 1, 1, 1, 1, 1, 1, 1, 1, 1, 1, 1, 1, 1, 1];
const keggPvalues = [0.0015, 0.0085, 0.012, 0.014, 0.016, 0.017, 0.018, 0.02, 0.025, 0.027, 0.027, 0.029, 0.031, 0.036, 0.037, 0.038, 0.04, 0.044, 0.046];
const fCountTicks = [0, 0.5, 1, 1.5, 2];
const fPvalueTicks = [0.01, 0.02, 0.03, 0.04];

function KeggBars() {
  const left = 1273.7, right = 1690, top = 1618.5, bottom = 2248;
  const x = d3.scaleLinear().domain([0, 2]).range([1291.7, 1671.7]);
  const step = 32.74;
  const y = d3.scaleBand<string>().domain(keggTerms).range([1638 - step / 2, 1638 - step / 2 + step * keggTerms.length]).paddingInner(0.09).paddingOuter(0.045);
  const color = d3.scaleLinear<string>().domain([0.0008, 0.0461]).range([RED_END, BLUE_END]).interpolate(d3.interpolateLab);
  return (
    <g fontFamily={SANS}>
      {[0.25, 0.75, 1.25, 1.75].map((t) => <line key={t} x1={x(t)} x2={x(t)} y1={top} y2={bottom} stroke="#f1f1f1" />)}
      {fCountTicks.map((t) => <line key={t} x1={x(t)} x2={x(t)} y1={top} y2={bottom} stroke="#ebebeb" strokeWidth={1.4} />)}
      {keggTerms.map((t) => <line key={t} x1={left} x2={right} y1={y(t)! + y.bandwidth() / 2} y2={y(t)! + y.bandwidth() / 2} stroke="#ebebeb" strokeWidth={1.6} />)}
      {keggTerms.map((t, i) => (
        <rect key={t} x={x(0)} y={y(t)} width={x(keggCounts[i]) - x(0)} height={y.bandwidth()} fill={color(keggPvalues[i])} />
      ))}
      <rect x={left} y={top} width={right - left} height={bottom - top} fill="none" stroke="#333" strokeWidth={1.1} />
      {keggTerms.map((t) => (
        <g key={t}>
          <line x1={left - 4} x2={left} y1={y(t)! + y.bandwidth() / 2} y2={y(t)! + y.bandwidth() / 2} stroke="#333" />
          <text x={left - 8} y={y(t)! + y.bandwidth() / 2 + 6} textAnchor="end" fontSize={16.7} fill="#111">{t}</text>
        </g>
      ))}
      {fCountTicks.map((t) => (
        <g key={t}>
          <line x1={x(t)} x2={x(t)} y1={bottom} y2={bottom + 4} stroke="#333" />
          <text x={x(t)} y={2265.5} textAnchor="middle" fontSize={16} fill="#111">{d3.format(".1f")(t)}</text>
        </g>
      ))}
      <text x={1481.7} y={2284} textAnchor="middle" fontSize={16.5} fill="#111">Count</text>
      <ColorBar x={1713.7} top={1882} bottom={2003.9} width={24} domain={[0.0008, 0.0461]} ticks={fPvalueTicks} fmt={d3.format(".2f")} />
    </g>
  );
}

const panelLetters: [string, number, number][] = [["A", 38, 46], ["B", 966, 44], ["C", 42, 889], ["D", 969, 889], ["E", 41, 1561], ["F", 964, 1560]];

export default function App() {
  return (
    <svg width={1776} height={2289} viewBox="0 0 1776 2289" style={{ position: "absolute", left: 0, top: 0, background: "#fff" }}>
      <Heatmap />
      <Volcano />
      <Venn />
      <GoCircle />
      <GoBars />
      <KeggBars />
      {panelLetters.map(([t, x, y]) => (
        <text key={t} x={x} y={y} fontFamily="Lato, sans-serif" fontWeight={700} fontSize={46} fill="#000">{t}</text>
      ))}
    </svg>
  );
}
